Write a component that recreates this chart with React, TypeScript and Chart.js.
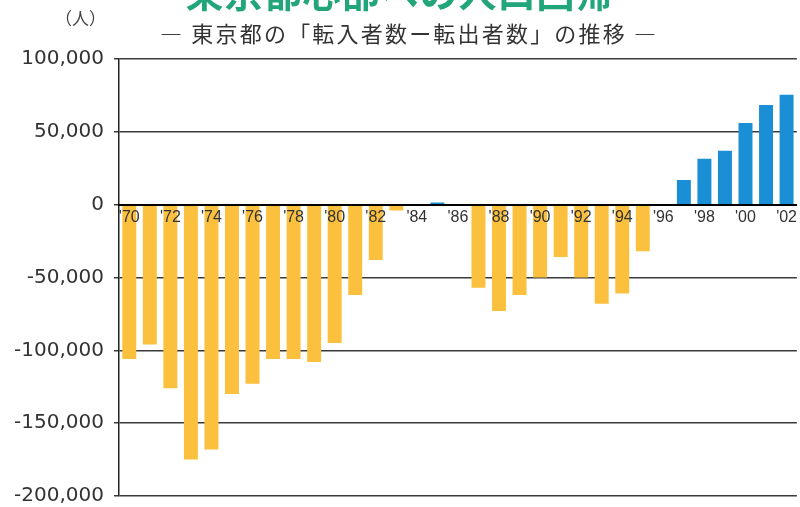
import React, { useEffect, useRef } from "react";
import { Chart, registerables } from "chart.js";

Chart.register(...registerables);

const years: string[] = [
  "1970", "1971", "1972", "1973", "1974", "1975", "1976", "1977", "1978", "1979",
  "1980", "1981", "1982", "1983", "1984", "1985", "1986", "1987", "1988", "1989",
  "1990", "1991", "1992", "1993", "1994", "1995", "1996", "1997", "1998", "1999",
  "2000", "2001", "2002",
];

// 転入者数 − 転出者数 (人)
const netMigration: number[] = [
  -106000, -96000, -126000, -175000, -168000, -130000, -123000, -106000, -106000, -108000,
  -95000, -62000, -38000, -4000, -1000, 1500, -500, -57000, -73000, -62000,
  -50000, -36000, -50000, -68000, -61000, -32000, 0, 17000, 31500, 37000,
  56000, 68500, 75500,
];

const yTicks: number[] = [100000, 50000, 0, -50000, -100000, -150000, -200000];

const titleText = "東京都心部への人口回帰";
const subtitleText = "― 東京都の「転入者数ー転出者数」の推移 ―";
const unitText = "（人）";

const NEG_COLOR = "#FBC13E";
const POS_COLOR = "#1B8FD5";

function shortYear(y: string): string {
  return "'" + y.slice(2);
}

export default function App() {
  const canvasRef = useRef<HTMLCanvasElement | null>(null);

  useEffect(() => {
    if (!canvasRef.current) return;
    const chart = new Chart(canvasRef.current, {
      type: "bar",
      data: {
        labels: years,
        datasets: [
          {
            data: netMigration,
            backgroundColor: netMigration.map((v) => (v >= 0 ? POS_COLOR : NEG_COLOR)),
            borderWidth: 0,
            barPercentage: 0.68,
            categoryPercentage: 1,
          },
        ],
      },
      options: {
        responsive: false,
        animation: false,
        layout: { padding: { top: 59, bottom: 3, left: 0, right: 0 } },
        plugins: {
          legend: { display: false },
          title: { display: false },
          tooltip: { enabled: false },
        },
        scales: {
          x: {
            type: "category",
            position: { y: 0 } as any,
            grid: { display: false, drawTicks: false },
            border: { color: "#000", width: 2, z: 1 } as any,
            ticks: {
              z: 1,
              autoSkip: false,
              maxRotation: 0,
              minRotation: 0,
              padding: 3,
              color: "#333",
              font: { family: "'Liberation Sans', Arial, sans-serif", size: 16 },
              callback: (_v: any, i: number) => (i % 2 === 0 ? shortYear(years[i]) : ""),
            },
          },
          y: {
            min: -200000,
            max: 100000,
            afterBuildTicks: (scale: any) => {
              scale.ticks = yTicks.map((v) => ({ value: v }));
            },
            afterFit: (scale: any) => {
              scale.width = 119;
            },
            grid: { color: "#3a3a3a", lineWidth: 1.5, tickLength: 5 },
            border: { color: "#222", width: 1.5 },
            ticks: {
              padding: 10,
              color: "#333",
              font: { family: "'DejaVu Sans', sans-serif", size: 20 },
              callback: (v: any) => Number(v).toLocaleString("en-US"),
            },
          },
        },
      },
    });
    return () => chart.destroy();
  }, []);

  return (
    <div
      style={{
        position: "fixed",
        left: 0,
        top: 0,
        width: 800,
        height: 507,
        overflow: "hidden",
        background: "#fff",
      }}
    >
      <canvas
        ref={canvasRef}
        width={800}
        height={518}
        style={{ position: "absolute", left: 0, top: 0, width: 800, height: 518 }}
      />
      <div
        style={{
          position: "absolute",
          left: 0,
          width: 800,
          top: -28,
          textAlign: "center",
          fontFamily: "'Noto Sans CJK JP', sans-serif",
          fontWeight: 700,
          fontSize: 38,
          lineHeight: "38px",
          color: "#22A57B",
          letterSpacing: 1,
          whiteSpace: "nowrap",
        }}
      >
        {titleText}
      </div>
      <div
        style={{
          position: "absolute",
          left: 160,
          top: 19,
          fontFamily: "'Noto Sans CJK JP', sans-serif",
          fontSize: 22,
          lineHeight: "26px",
          color: "#333",
          letterSpacing: 2.2,
          whiteSpace: "nowrap",
        }}
      >
        {subtitleText}
      </div>
      <div
        style={{
          position: "absolute",
          left: 55,
          top: 8,
          fontFamily: "'Noto Sans CJK JP', sans-serif",
          fontSize: 17,
          lineHeight: "20px",
          color: "#444",
          whiteSpace: "nowrap",
        }}
      >
        {unitText}
      </div>
    </div>
  );
}
